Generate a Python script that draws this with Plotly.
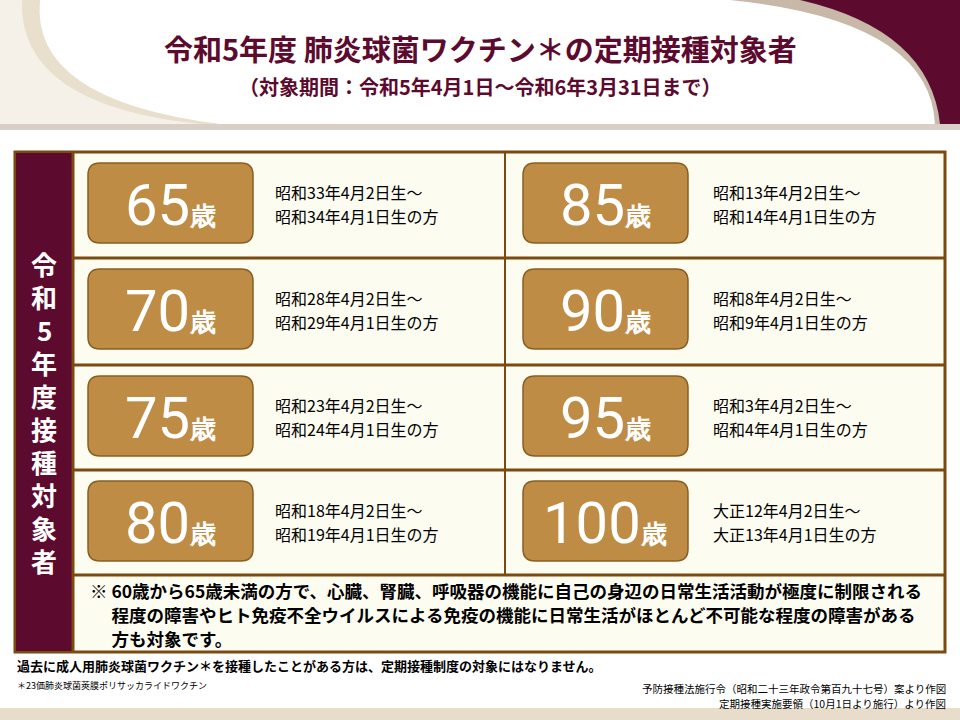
import plotly.graph_objects as go

ages_left = ["65", "70", "75", "80"]
ages_right = ["85", "90", "95", "100"]
births_left = [("昭和33年4月2日生～", "昭和34年4月1日生の方"),
               ("昭和28年4月2日生～", "昭和29年4月1日生の方"),
               ("昭和23年4月2日生～", "昭和24年4月1日生の方"),
               ("昭和18年4月2日生～", "昭和19年4月1日生の方")]
births_right = [("昭和13年4月2日生～", "昭和14年4月1日生の方"),
                ("昭和8年4月2日生～", "昭和9年4月1日生の方"),
                ("昭和3年4月2日生～", "昭和4年4月1日生の方"),
                ("大正12年4月2日生～", "大正13年4月1日生の方")]
title = "令和5年度 肺炎球菌ワクチン＊の定期接種対象者"
subtitle = "（対象期間：令和5年4月1日～令和6年3月31日まで）"
side_label = "令和5年度接種対象者"
note_lines = ["※ 60歳から65歳未満の方で、心臓、腎臓、呼吸器の機能に自己の身辺の日常生活活動が極度に制限される",
              "　 程度の障害やヒト免疫不全ウイルスによる免疫の機能に日常生活がほとんど不可能な程度の障害がある",
              "　 方も対象です。"]
foot1 = "過去に成人用肺炎球菌ワクチン＊を接種したことがある方は、定期接種制度の対象にはなりません。"
foot2 = "＊23価肺炎球菌莢膜ポリサッカライドワクチン"
src1 = "予防接種法施行令（昭和二十三年政令第百九十七号）案より作図"
src2 = "定期接種実施要領（10月1日より施行）より作図"

MAROON = "#5c0a2e"
BROWN = "#7a4a10"
JP = "Noto Sans CJK JP"

fig = go.Figure()
shapes = []
ann = []

shapes.append(dict(type="rect", x0=0, y0=0, x1=960, y1=128, fillcolor="white", line_width=0, layer="below"))
shapes.append(dict(type="rect", x0=0, y0=124, x1=960, y1=130, fillcolor="#d9cfc6", line_width=0, layer="below"))
shapes.append(dict(type="path", path="M0,0 L40,0 Q30,100 220,124 L0,124 Z", fillcolor="#e8dfcc", line_width=0, layer="below"))
shapes.append(dict(type="path", path="M0,0 L22,0 Q18,105 200,124 L0,124 Z", fillcolor="#f6f1e8", line_width=0, layer="below"))
shapes.append(dict(type="path", path="M730,0 L960,0 L960,124 L935,124 Q930,20 730,0 Z", fillcolor="#c8b8a8", line_width=0, layer="below"))
shapes.append(dict(type="path", path="M800,0 L960,0 L960,124 L940,124 Q930,30 800,0 Z", fillcolor=MAROON, line_width=0, layer="below"))
shapes.append(dict(type="rect", x0=0, y0=708, x1=960, y1=720, fillcolor="#e8dccb", line_width=0))

ann.append(dict(x=480, y=48, text=f"<b>{title}</b>", font=dict(size=29, color=MAROON, family=JP)))
ann.append(dict(x=480, y=86, text=f"<b>{subtitle}</b>", font=dict(size=20, color=MAROON, family=JP)))

shapes.append(dict(type="rect", x0=15, y0=152, x1=945, y1=652, fillcolor="#fdfcf0", line=dict(color=BROWN, width=3)))
shapes.append(dict(type="rect", x0=16, y0=153, x1=73, y1=651, fillcolor=MAROON, line_width=0))
shapes.append(dict(type="line", x0=73, y0=152, x1=73, y1=652, line=dict(color=BROWN, width=3)))
row_edges = [152, 258, 365, 470, 575]
for y in row_edges[1:]:
    shapes.append(dict(type="line", x0=73, y0=y, x1=945, y1=y, line=dict(color=BROWN, width=3)))
shapes.append(dict(type="line", x0=505, y0=152, x1=505, y1=575, line=dict(color=BROWN, width=2)))

for k, ch in enumerate(side_label):
    ann.append(dict(x=44, y=263 + k * 33, text=f"<b>{ch}</b>", font=dict(size=26, color="white", family=JP)))

def badge(x0, y0, age):
    x1, y1 = x0 + 165, y0 + 80
    r = 12
    p = (f"M{x0+r},{y0} L{x1-r},{y0} Q{x1},{y0} {x1},{y0+r} L{x1},{y1-r} Q{x1},{y1} {x1-r},{y1} "
         f"L{x0+r},{y1} Q{x0},{y1} {x0},{y1-r} L{x0},{y0+r} Q{x0},{y0} {x0+r},{y0} Z")
    shapes.append(dict(type="path", path=p, fillcolor="#bf8c45", line=dict(color="#8a5e20", width=1.5)))
    ann.append(dict(x=x0 + 82, y=y0 + 42,
                    text=f"<span style='font-size:58px'>{age}</span><span style='font-size:26px'><b>歳</b></span>",
                    font=dict(color="white", family="Liberation Sans Narrow, Roboto")))

for i in range(4):
    ytop = row_edges[i]
    badge(88, ytop + 11, ages_left[i])
    badge(523, ytop + 11, ages_right[i])
    for bx, b in [(273, births_left[i]), (711, births_right[i])]:
        ann.append(dict(x=bx, y=ytop + 40, text=b[0], xanchor="left",
                        font=dict(size=16, color="black", family=JP)))
        ann.append(dict(x=bx, y=ytop + 64, text=b[1], xanchor="left",
                        font=dict(size=16, color="black", family=JP)))

for k, t in enumerate(note_lines):
    ann.append(dict(x=88, y=590 + k * 24, text=f"<b>{t}</b>", xanchor="left",
                    font=dict(size=17.5, color="black", family=JP)))

ann.append(dict(x=15, y=665, text=f"<b>{foot1}</b>", xanchor="left", font=dict(size=13, color="black", family=JP)))
ann.append(dict(x=15, y=685, text=foot2, xanchor="left", font=dict(size=9, color="black", family=JP)))
ann.append(dict(x=948, y=688, text=src1, xanchor="right", font=dict(size=10.5, color="black", family=JP)))
ann.append(dict(x=948, y=703, text=src2, xanchor="right", font=dict(size=10.5, color="black", family=JP)))

for a in ann:
    a.setdefault("xanchor", "center")
    a.update(xref="x", yref="y", showarrow=False, yanchor="middle")

fig.update_layout(width=960, height=720, margin=dict(l=0, r=0, t=0, b=0),
                  paper_bgcolor="white", plot_bgcolor="white",
                  xaxis=dict(range=[0, 960], visible=False, fixedrange=True),
                  yaxis=dict(range=[720, 0], visible=False, fixedrange=True),
                  shapes=shapes, annotations=ann, showlegend=False)
fig.write_html("out.html", config={"displayModeBar": False},
               post_script="document.body.style.margin='0';document.body.style.overflow='hidden';")
